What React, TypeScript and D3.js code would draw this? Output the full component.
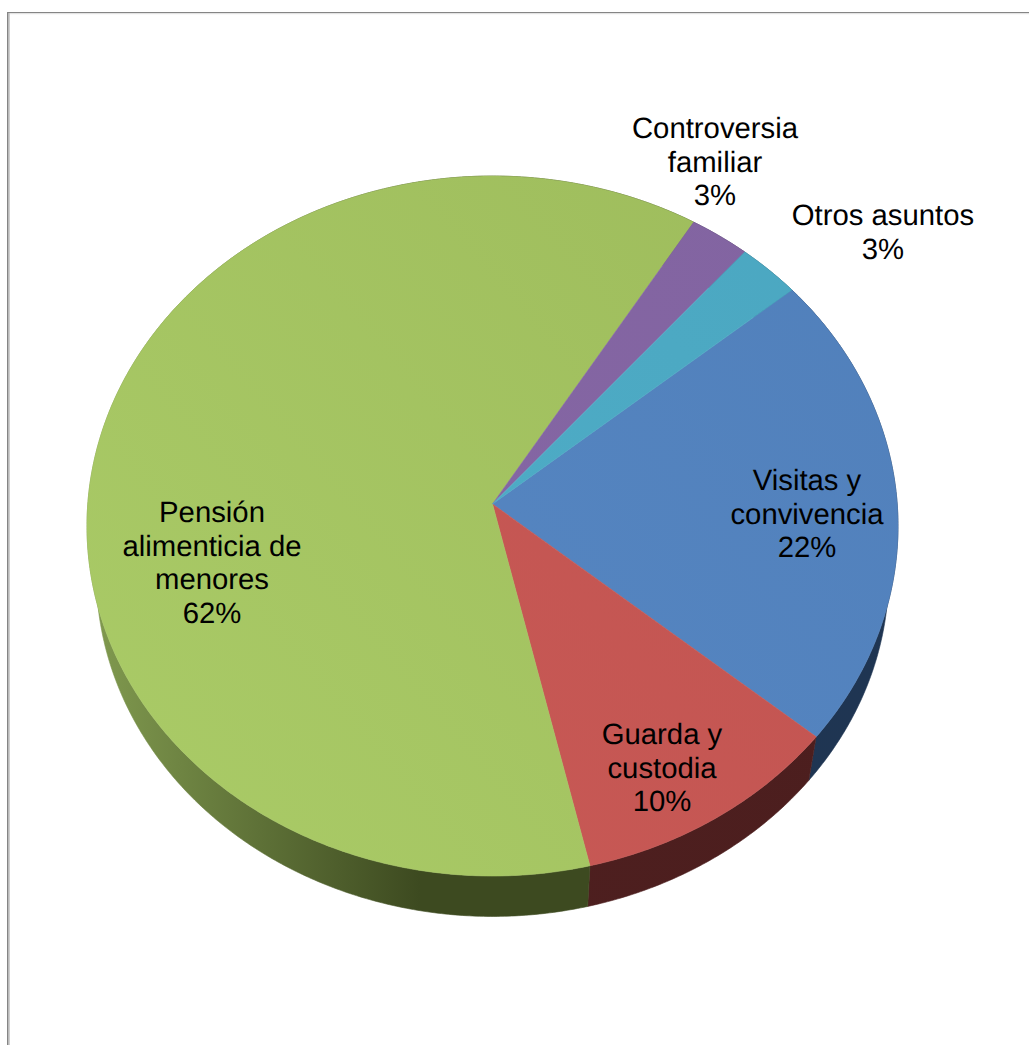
import React from "react";
import * as d3 from "d3";

const categories = ["Visitas y convivencia", "Guarda y custodia", "Pensión alimenticia de menores", "Controversia familiar", "Otros asuntos"];
const shares = [22.1, 10.3, 62.4, 2.55, 2.65];
const percentLabels = ["22%", "10%", "62%", "3%", "3%"];
const labelLines = [["Visitas y", "convivencia", "22%"], ["Guarda y", "custodia", "10%"], ["Pensión", "alimenticia de", "menores", "62%"], ["Controversia", "familiar", "3%"], ["Otros asuntos", "3%"]];
const labelAnchors: [number, number][] = [[807, 490], [662, 744], [212, 522], [715, 138], [883, 225]];
const topColors = [["#5788c4", "#5180bb"], ["#c95a56", "#c15350"], ["#a9ca66", "#9ebc5c"], ["#8667a5", "#8264a1"], ["#4fafc9", "#4ba7c1"]];
const wallColors = [["#1d3554", "#1f3552"], ["#4f2020", "#4c1e1e"], ["#7f984e", "#3d4a20"], ["#3f2f55", "#3f2f55"], ["#1f5565", "#1f5565"]];

const WIDTH = 1029;
const HEIGHT = 1045;
const CX = 492.5;
const CY = 504;
const A = 348.6;
const B = 404.7;
const K = -0.0629;
const WALL_SCALE = 0.977;
const WALL_DROP = 49;
const START = (50.3 * Math.PI) / 180;

const project = (angle: number): [number, number] => {
  const u = Math.sin(angle);
  const v = -Math.cos(angle);
  const w = 1 + K * v;
  return [CX + (B * u) / w, CY + (A * v) / w];
};
const lower = ([x, y]: [number, number]): [number, number] => [
  CX + (x - CX) * WALL_SCALE,
  CY + (y - CY) * WALL_SCALE + WALL_DROP,
];

const pie = d3.pie<number>().sort(null).startAngle(START).endAngle(START + 2 * Math.PI);
const closed = d3.line<[number, number]>().curve(d3.curveLinearClosed);

export default function App() {
  const arcs = pie(shares);
  const rim = (a: d3.PieArcDatum<number>) => {
    const n = Math.max(8, Math.ceil((a.endAngle - a.startAngle) * 120));
    const t = d3.scaleLinear().domain([0, n]).range([a.startAngle, a.endAngle]);
    return d3.range(n + 1).map((i) => project(t(i)));
  };
  return (
    <svg
      width={WIDTH}
      height={HEIGHT}
      viewBox={`0 0 ${WIDTH} ${HEIGHT}`}
      style={{ position: "absolute", left: 0, top: 0, display: "block", background: "#fff" }}
    >
      <defs>
        {categories.map((_, i) => (
          <React.Fragment key={i}>
            <linearGradient id={`top${i}`} gradientUnits="userSpaceOnUse" x1={150} y1={800} x2={850} y2={200}>
              <stop offset="0" stopColor={topColors[i][0]} />
              <stop offset="1" stopColor={topColors[i][1]} />
            </linearGradient>
            <linearGradient id={`wall${i}`} gradientUnits="userSpaceOnUse" x1={100} y1={0} x2={i === 2 ? 420 : 900} y2={0}>
              <stop offset="0" stopColor={wallColors[i][0]} />
              <stop offset="1" stopColor={wallColors[i][1]} />
            </linearGradient>
          </React.Fragment>
        ))}
      </defs>

      <rect x={7} y={12} width={WIDTH - 7} height={1.2} fill="#858585" />
      <rect x={9} y={13.2} width={WIDTH - 9} height={1} fill="#e2e2e2" />
      <rect x={7} y={12} width={1.6} height={HEIGHT - 12} fill="#858585" />
      <rect x={8.6} y={13} width={1.2} height={HEIGHT - 13} fill="#c4c4c4" />

      {arcs.map((a, i) => {
        const top = rim(a);
        const bottom = top.map(lower).reverse();
        return <path key={i} d={closed([...top, ...bottom]) ?? ""} fill={`url(#wall${i})`} stroke={`url(#wall${i})`} strokeWidth={0.6} />;
      })}
      {arcs.map((a, i) => (
        <path key={i} d={closed([[CX, CY], ...rim(a)]) ?? ""} fill={`url(#top${i})`} stroke={`url(#top${i})`} strokeWidth={0.6} strokeLinejoin="round" />
      ))}
      {labelLines.map((lines, i) => (
        <text
          key={i}
          textAnchor="middle"
          fontFamily="'Liberation Sans', Arial, sans-serif"
          fontSize={29.3}
          fill="#000"
          textRendering="geometricPrecision"
          aria-label={`${categories[i]} ${percentLabels[i]}`}
        >
          {lines.map((line, j) => (
            <tspan key={j} x={labelAnchors[i][0]} y={labelAnchors[i][1] + j * 33.7}>
              {line}
            </tspan>
          ))}
        </text>
      ))}
    </svg>
  );
}
